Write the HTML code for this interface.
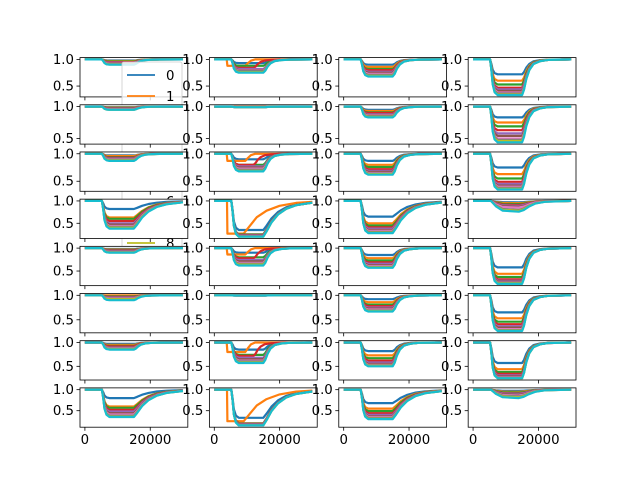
<!DOCTYPE html>
<html><head><meta charset="utf-8"><style>
body{margin:0;background:#fff}
svg{display:block;font-family:"DejaVu Sans","Liberation Sans",sans-serif}
</style></head><body>
<svg id="fig" width="640" height="480" viewBox="0 0 640 480"></svg>
<script>
const seriesNames=["0","1","2","3","4","5","6","7","8","9"];
const colors=["#1f77b4","#ff7f0e","#2ca02c","#d62728","#9467bd","#8c564b","#e377c2","#7f7f7f","#bcbd22","#17becf"];
const xTicks=[0,20000];
const yTicks=[0.5,1.0];
// shape templates: time key points and drop fraction
const shapeA_t=[0,5200,5600,6000,6600,7500,15000,15600,16300,17200,18500,20500,23000,30000];
const shapeA_f=[0,0,0.3,0.7,0.92,1,1,0.85,0.55,0.3,0.13,0.05,0.015,0];
const shapeC_t=[0,5200,5600,6000,6600,7500,15000,16000,17500,19500,22000,25000,30000];
const shapeC_f=[0,0,0.3,0.7,0.92,1,1,0.85,0.6,0.38,0.22,0.12,0.05];
const shapeD_t=[0,5500,7000,9000,14000,15500,17000,19000,22000,30000];
const shapeD_f=[0,0,0.5,0.9,1,0.85,0.55,0.25,0.08,0];
const earlyOrange_t=[0,3800,4000,9500,10300,11200,12500,30000];
const earlyOrange_f=[0,0,1,1,0.6,0.2,0,0];
const earlyOrangeSlow_t=[0,3900,4000,9000,11000,13000,16000,20000,25000,30000];
const earlyOrangeSlow_f=[0,0,1,1,0.75,0.5,0.3,0.15,0.06,0.03];
// shape kind per subplot (row-major, 8x4)
const kinds=[
"A","B","A","A",
"A","A","A","A",
"A","B","A","A",
"C","E","C","D",
"A","B","A","A",
"A","A","A","A",
"A","B","A","A",
"C","E","C","D"];
// minimum levels of series 0..9 per subplot
const levels=[
[0.98,0.97,0.96,0.95,0.94,0.93,0.92,0.91,0.905,0.9],
[0.93,0.88,0.88,0.84,0.82,0.8,0.79,0.78,0.76,0.75],
[0.9,0.86,0.82,0.8,0.77,0.75,0.73,0.71,0.69,0.68],
[0.72,0.6,0.53,0.47,0.44,0.41,0.38,0.36,0.34,0.33],
[0.99,0.985,0.98,0.975,0.97,0.965,0.96,0.955,0.95,0.95],
[0.995,0.995,0.995,0.995,0.99,0.99,0.99,0.99,0.99,0.99],
[0.95,0.93,0.91,0.9,0.88,0.87,0.86,0.85,0.84,0.83],
[0.83,0.75,0.69,0.63,0.58,0.54,0.5,0.48,0.46,0.44],
[0.97,0.96,0.94,0.93,0.92,0.91,0.9,0.89,0.88,0.87],
[0.9,0.87,0.8,0.8,0.77,0.75,0.73,0.71,0.69,0.68],
[0.87,0.8,0.76,0.72,0.69,0.67,0.65,0.64,0.63,0.62],
[0.75,0.63,0.55,0.49,0.45,0.42,0.4,0.38,0.36,0.35],
[0.82,0.63,0.6,0.55,0.5,0.47,0.44,0.42,0.4,0.38],
[0.35,0.27,0.25,0.24,0.23,0.22,0.21,0.21,0.2,0.2],
[0.65,0.5,0.45,0.41,0.38,0.35,0.33,0.31,0.29,0.28],
[0.97,0.95,0.93,0.91,0.89,0.87,0.85,0.8,0.78,0.76],
[0.98,0.97,0.96,0.95,0.94,0.93,0.92,0.91,0.905,0.9],
[0.9,0.86,0.8,0.78,0.74,0.71,0.68,0.66,0.64,0.62],
[0.85,0.78,0.73,0.69,0.66,0.63,0.61,0.59,0.58,0.57],
[0.58,0.44,0.37,0.32,0.29,0.27,0.25,0.24,0.23,0.22],
[0.99,1.0,0.98,0.97,0.96,0.95,0.94,0.93,0.92,0.9],
[0.998,0.998,0.997,0.997,0.996,0.996,0.995,0.995,0.995,0.995],
[0.92,0.86,0.81,0.78,0.75,0.73,0.71,0.69,0.68,0.67],
[0.65,0.53,0.46,0.41,0.37,0.34,0.31,0.29,0.28,0.27],
[0.97,0.95,0.93,0.92,0.9,0.89,0.88,0.87,0.86,0.85],
[0.85,0.8,0.74,0.72,0.68,0.65,0.62,0.6,0.58,0.57],
[0.82,0.73,0.67,0.62,0.58,0.55,0.53,0.52,0.51,0.5],
[0.57,0.44,0.38,0.34,0.31,0.29,0.27,0.26,0.25,0.25],
[0.8,0.6,0.57,0.52,0.48,0.44,0.41,0.38,0.36,0.35],
[0.33,0.25,0.2,0.19,0.18,0.17,0.16,0.16,0.15,0.15],
[0.68,0.55,0.49,0.44,0.4,0.37,0.35,0.33,0.31,0.3],
[0.97,0.95,0.93,0.91,0.9,0.88,0.86,0.84,0.82,0.8]];

const NS="http://www.w3.org/2000/svg";
const svg=document.getElementById('fig');
function mk(tag,attrs,parent){const e=document.createElementNS(NS,tag);for(const k in attrs)e.setAttribute(k,attrs[k]);(parent||svg).appendChild(e);return e;}
const L=80,R=576,T=57.6,B=427.2;
const W=(R-L)/(4+3*0.2),H=(B-T)/(8+7*0.2);
const xmin=-1500,xmax=31500;
function seriesPts(kind,s,lev){
  let t=shapeA_t,f=shapeA_f;
  if(kind==="C"||kind==="E"){t=shapeC_t;f=shapeC_f;}
  if(kind==="D"){t=shapeD_t;f=shapeD_f;}
  if(kind==="B"&&s===1){t=earlyOrange_t;f=earlyOrange_f;}
  if(kind==="E"&&s===1){t=earlyOrangeSlow_t;f=earlyOrangeSlow_f;}
  const sh=(kind==="B"&&s===3)?-3000:0;
  return t.map((tt,i)=>[ (i>=6&&sh)?Math.max(tt+sh,7600):tt, 1-f[i]*(1-lev)]);
}
for(let r=0;r<8;r++){
  let mn=1;for(let c=0;c<4;c++)for(const v of levels[r*4+c])mn=Math.min(mn,v);
  const ymin=mn-0.05*(1-mn),ymax=1+0.05*(1-mn);
  for(let c=0;c<4;c++){
    const idx=r*4+c;
    const x0=L+c*W*1.2,y0=T+r*H*1.2;
    const sx=v=>x0+(v-xmin)/(xmax-xmin)*W;
    const sy=v=>y0+H-(v-ymin)/(ymax-ymin)*H;
    const g=mk('g',{});
    
    
    mk('rect',{x:x0,y:y0,width:W,height:H,fill:'#fff'},g);
    const cid='clip'+idx;
    const cp=mk('clipPath',{id:cid},g);mk('rect',{x:x0,y:y0,width:W,height:H},cp);
    const lg=mk('g',{'clip-path':'url(#'+cid+')'},g);
    levels[idx].forEach((lev,s)=>{
      const pts=seriesPts(kinds[idx],s,lev).map(p=>sx(p[0]).toFixed(1)+','+sy(p[1]).toFixed(1)).join(' ');
      const pl=mk('polyline',{points:pts,fill:'none',stroke:colors[s],'stroke-width':2.2,'stroke-linejoin':'round'},lg);
      
      
    });
    mk('rect',{x:x0,y:y0,width:W,height:H,fill:'none',stroke:'#000','stroke-width':0.8},g);
    yTicks.forEach(v=>{
      const y=sy(v);
      mk('line',{x1:x0,x2:x0-3.5,y1:y,y2:y,stroke:'#000','stroke-width':0.8},g);
      const t=mk('text',{x:x0-6,y:y+4.5,'text-anchor':'end','font-size':13.3,fill:'#000'},g);
      t.textContent=v.toFixed(1);
      
      
    });
    xTicks.forEach(v=>{
      const x=sx(v);
      mk('line',{x1:x,x2:x,y1:y0+H,y2:y0+H+3.5,stroke:'#000','stroke-width':0.8},g);
      if(r===7){
        const t=mk('text',{x:x,y:y0+H+17,'text-anchor':'middle','font-size':13.3,fill:'#000'},g);
        t.textContent=String(v);
        
        
      }
    });
    if(idx===0){
      const lgd=mk('g',{});
      
      
      mk('rect',{x:122,y:62,width:60,height:214,rx:2,fill:'#fff','fill-opacity':0.8,stroke:'#ccc','stroke-width':0.8},lgd);
      seriesNames.forEach((n,s)=>{
        const y=75+s*21;
        const e=mk('g',{},lgd);
        
        
        mk('line',{x1:127,x2:155,y1:y,y2:y,stroke:colors[s],'stroke-width':1.8},e);
        const t=mk('text',{x:166,y:y+5,'font-size':13.3,fill:'#000'},e);t.textContent=n;
      });
    }
  }
}
</script>
</body></html>
